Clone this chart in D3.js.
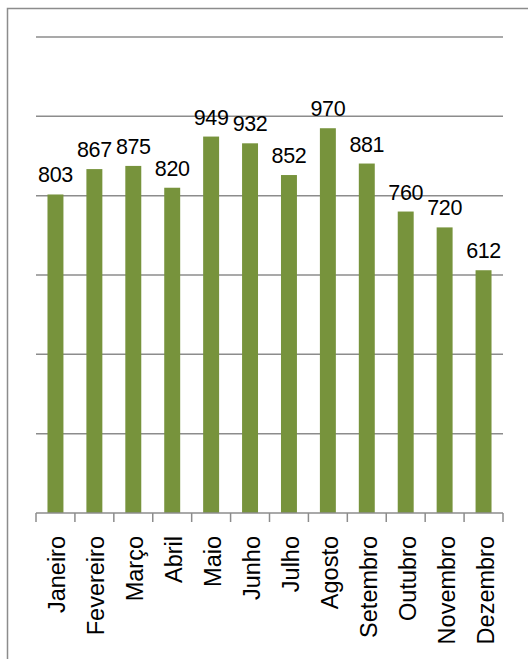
<!DOCTYPE html>
<html>
<head>
<meta charset="utf-8">
<script src="https://cdn.jsdelivr.net/npm/d3@7"></script>
<style>
  html, body { margin: 0; padding: 0; background: #fff; }
  svg { display: block; }
</style>
</head>
<body>
<svg id="chart" width="528" height="659"></svg>
<script>
// Monthly totals
const months = ["Janeiro", "Fevereiro", "Março", "Abril", "Maio", "Junho",
                "Julho", "Agosto", "Setembro", "Outubro", "Novembro", "Dezembro"];
const values = [803, 867, 875, 820, 949, 932, 852, 970, 881, 760, 720, 612];
const gridTicks = [0, 200, 400, 600, 800, 1000, 1200];

const svg = d3.select("#chart");
const plot = { left: 36, right: 503, top: 37, bottom: 513 };

// Outer frame
svg.append("rect")
  .attr("x", 7.5).attr("y", 8.5)
  .attr("width", 540).attr("height", 670)
  .attr("fill", "#fff")
  .attr("stroke", "#8c8c8c").attr("stroke-width", 1.5);

const x = d3.scaleBand()
  .domain(months)
  .range([plot.left, plot.right])
  .paddingInner(0.59)
  .paddingOuter(0.295);

const y = d3.scaleLinear()
  .domain([0, 1200])
  .range([plot.bottom, plot.top]);

// Horizontal gridlines
svg.append("g")
  .selectAll("line")
  .data(gridTicks.filter(d => d > 0))
  .join("line")
  .attr("x1", plot.left).attr("x2", plot.right)
  .attr("y1", d => y(d)).attr("y2", d => y(d))
  .attr("stroke", "#8c8c8c").attr("stroke-width", 1.5);

// Bars
svg.append("g")
  .selectAll("rect")
  .data(values)
  .join("rect")
  .attr("x", (d, i) => x(months[i]))
  .attr("y", d => y(d))
  .attr("width", x.bandwidth())
  .attr("height", d => y(0) - y(d))
  .attr("fill", "#77933c");

// Category axis line and boundary ticks
const edges = d3.range(months.length + 1).map(i => plot.left + i * (plot.right - plot.left) / months.length);
svg.append("line")
  .attr("x1", plot.left).attr("x2", plot.right)
  .attr("y1", plot.bottom).attr("y2", plot.bottom)
  .attr("stroke", "#8c8c8c").attr("stroke-width", 1.5);
svg.append("g")
  .selectAll("line")
  .data(edges)
  .join("line")
  .attr("x1", d => d).attr("x2", d => d)
  .attr("y1", plot.bottom).attr("y2", plot.bottom + 9)
  .attr("stroke", "#8c8c8c").attr("stroke-width", 1.5);

// Value labels above bars
svg.append("g")
  .selectAll("text")
  .data(values)
  .join("text")
  .attr("x", (d, i) => x(months[i]) + x.bandwidth() / 2)
  .attr("y", d => y(d) - 12)
  .attr("text-anchor", "middle")
  .attr("font-family", "Liberation Sans, Arial, sans-serif")
  .attr("font-size", 21.5)
  .attr("letter-spacing", -0.4)
  .attr("fill", "#000")
  .text(d => d);

// Rotated month labels
svg.append("g")
  .selectAll("text")
  .data(months)
  .join("text")
  .attr("transform", d => `translate(${x(d) + x.bandwidth() / 2 + 10},${plot.bottom + 23}) rotate(-90)`)
  .attr("text-anchor", "end")
  .attr("font-family", "Liberation Sans, Arial, sans-serif")
  .attr("font-size", 23.5)
  .attr("fill", "#000")
  .text(d => d);
</script>
</body>
</html>
